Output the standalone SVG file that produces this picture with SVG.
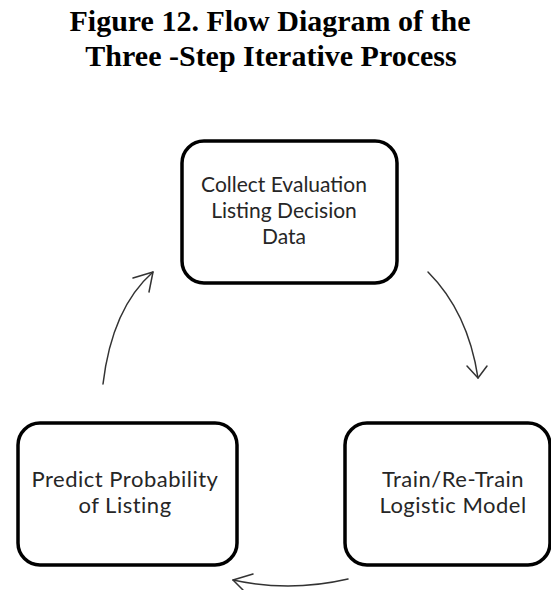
<svg xmlns="http://www.w3.org/2000/svg" width="551" height="590" viewBox="0 0 551 590">
  <style>
    .title { font-family: "Liberation Serif", "Times New Roman", serif; font-weight: bold; font-size: 30px; fill: #000; text-anchor: middle; }
    .box { fill: #fff; stroke: #000; stroke-width: 3.5; }
    .label { font-family: Lato, "Open Sans", sans-serif; font-size: 22px; letter-spacing: 0.5px; fill: #262626; text-anchor: middle; }
    .label.small { font-size: 21px; letter-spacing: 0; }
    .conn { fill: none; stroke: #333; stroke-width: 1.5; stroke-linecap: round; stroke-linejoin: round; }
  </style>
  <rect width="551" height="590" fill="#fff"/>

  <text class="title" x="270" y="31">Figure 12. Flow Diagram of the</text>
  <text class="title" x="271" y="66">Three -Step Iterative Process</text>

  <g id="collect">
    <rect class="box" x="182" y="141" width="215" height="142" rx="22" ry="22"/>
    <text class="label small" x="284" y="192">Collect Evaluation</text>
    <text class="label small" x="284" y="218">Listing Decision</text>
    <text class="label small" x="284" y="244">Data</text>
  </g>

  <g id="train">
    <rect class="box" x="345" y="423" width="205" height="142" rx="22" ry="22"/>
    <text class="label" x="453" y="487">Train/Re-Train</text>
    <text class="label" x="453" y="513">Logistic Model</text>
  </g>

  <g id="predict">
    <rect class="box" x="18" y="423" width="219" height="142" rx="22" ry="22"/>
    <text class="label" x="125" y="487">Predict Probability</text>
    <text class="label" x="125" y="513">of Listing</text>
  </g>

  <g id="connectors">
    <path class="conn" d="M428,272 Q468,312 478,378"/>
    <polyline class="conn" points="467,366 478,378 487,366"/>
    <path class="conn" d="M348,579 Q290,592.5 233,580"/>
    <polyline class="conn" points="253,574 233,580 243,590"/>
    <path class="conn" d="M103,384 Q112,308 153,272"/>
    <polyline class="conn" points="133,278 153,272 149,292"/>
  </g>
</svg>
